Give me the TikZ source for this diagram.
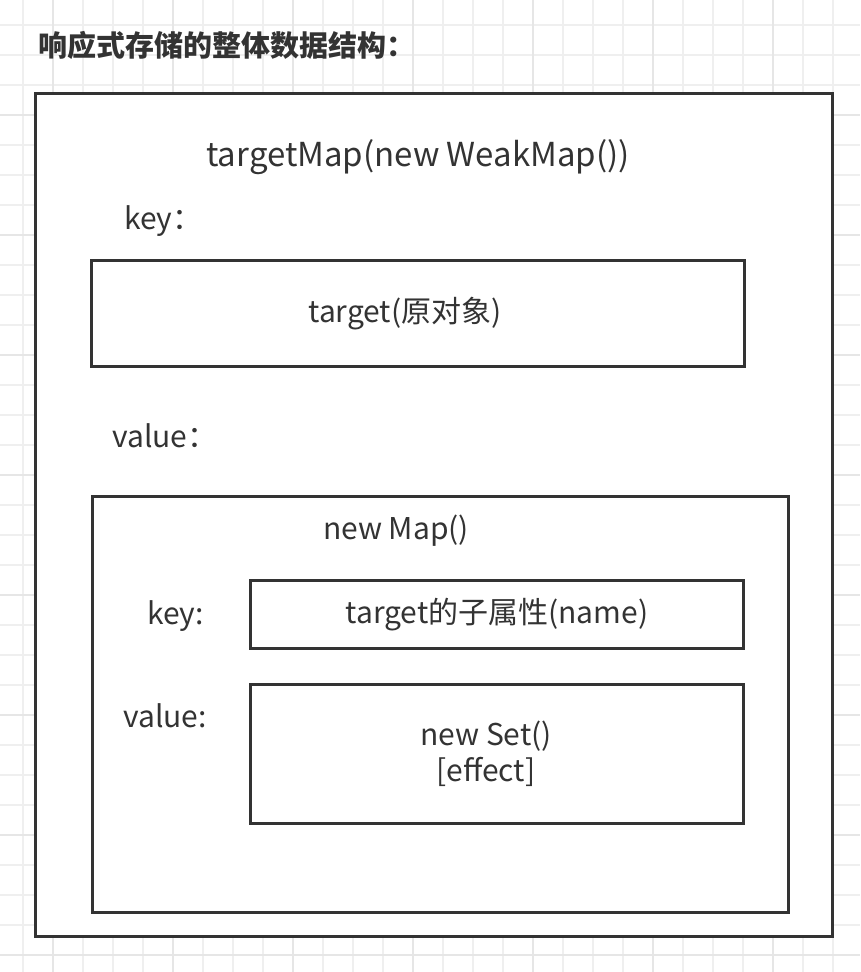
\documentclass[tikz,border=0pt]{standalone}
\usepackage{fontspec}
\setmainfont{Noto Sans CJK SC}
\definecolor{ink}{HTML}{333333}
\definecolor{gridc}{HTML}{EFEFEF}
\definecolor{gridd}{HTML}{E6E6E6}
\tikzset{
  box/.style={draw=ink, line width=3pt, fill=white, inner sep=0pt},
  txt/.style={text=ink, font=\fontsize{30}{36}\selectfont, inner sep=0pt},
  lbl/.style={txt, anchor=west},
}
\begin{document}
\begin{tikzpicture}[x=1pt,y=-1pt]
  \useasboundingbox (0,0) rectangle (860,972);
  \fill[white] (0,0) rectangle (860,972);
  \foreach \i in {0,...,27} \draw[gridc, line width=1.2pt] ({23+30*\i},0) -- ({23+30*\i},972);
  \foreach \j in {0,...,31} \draw[gridc, line width=1.2pt] (0,{25+30*\j}) -- (860,{25+30*\j});
  \foreach \i in {0,...,6} \draw[gridd, line width=1.8pt] ({53+120*\i},0) -- ({53+120*\i},972);
  \foreach \j in {1,...,8} \draw[gridd, line width=1.8pt] (0,{-5+120*\j}) -- (860,{-5+120*\j});
  \node[lbl, font=\fontsize{29}{35}\selectfont\bfseries] (title) at (38,45) {响应式存储的整体数据结构：};
  \node[box, minimum width=797pt, minimum height=843pt] (weakmap) at (433.5,514.5) {};
  \node[txt, font=\fontsize{33}{40}\selectfont] (weakmaptxt) at (418,157) {targetMap(new WeakMap())};
  \node[lbl] (key1) at (124,221) {key：};
  \node[box, minimum width=653pt, minimum height=106pt] (target) at (417.5,313) {};
  \node[txt] (targettxt) at (405,314) {target(原对象)};
  \node[lbl] (value1) at (112,436) {value：};
  \node[box, minimum width=696pt, minimum height=416pt] (map) at (440,704) {};
  \node[txt] (maptxt) at (396,531) {new Map()};
  \node[lbl] (key2) at (147,616) {key:};
  \node[box, minimum width=493pt, minimum height=68pt] (prop) at (496.5,614) {};
  \node[txt] (proptxt) at (497,615) {target的子属性(name)};
  \node[lbl] (value2) at (123,716) {value:};
  \node[box, minimum width=493pt, minimum height=139pt] (dep) at (496.5,753.5) {};
  \node[txt, align=center] (deptxt) at (486,754) {new Set()\\{[effect]}};
\end{tikzpicture}
\end{document}
